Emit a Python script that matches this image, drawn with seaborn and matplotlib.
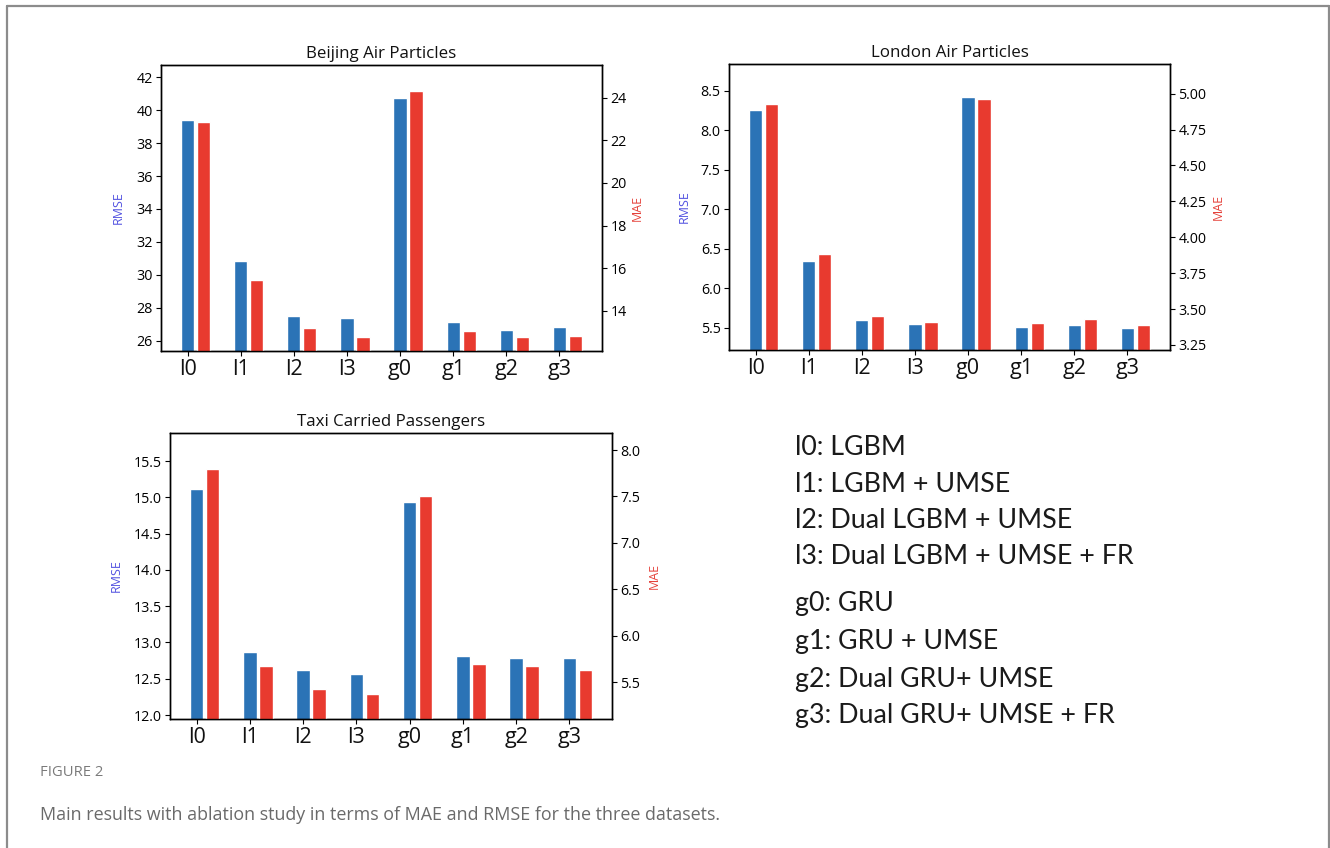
import numpy as np
import seaborn as sns
import matplotlib.pyplot as plt
from matplotlib.lines import Line2D

# -------------------------------
# data
# -------------------------------
models = ["l0", "l1", "l2", "l3", "g0", "g1", "g2", "g3"]

beijing_rmse = [39.38, 30.84, 27.52, 27.36, 40.76, 27.13, 26.65, 26.83]
beijing_mae = [22.88, 15.47, 13.19, 12.77, 24.30, 13.06, 12.77, 12.83]

london_rmse = [8.26, 6.34, 5.60, 5.55, 8.42, 5.51, 5.54, 5.49]
london_mae = [4.93, 3.88, 3.45, 3.41, 4.96, 3.40, 3.43, 3.39]

taxi_rmse = [15.12, 12.87, 12.62, 12.57, 14.93, 12.82, 12.78, 12.78]
taxi_mae = [7.80, 5.68, 5.43, 5.37, 7.50, 5.70, 5.68, 5.63]

legend_lines = [
    "l0: LGBM",
    "l1: LGBM + UMSE",
    "l2: Dual LGBM + UMSE",
    "l3: Dual LGBM + UMSE + FR",
    "g0: GRU",
    "g1: GRU + UMSE",
    "g2: Dual GRU+ UMSE",
    "g3: Dual GRU+ UMSE + FR",
]

BLUE = "#2b73b6"
RED = "#e83a2f"

sns.set_style("ticks", {"axes.edgecolor": "black",
                        "xtick.color": "black", "ytick.color": "black",
                        "xtick.direction": "out", "ytick.direction": "out"})
plt.rcParams["font.family"] = ["Open Sans", "DejaVu Sans"]
plt.rcParams["axes.linewidth"] = 1.0

W, H = 1330, 848
fig = plt.figure(figsize=(W / 100, H / 100), dpi=100)


def px_axes(left, top, right, bottom):
    return fig.add_axes([left / W, 1 - bottom / H, (right - left) / W, (bottom - top) / H])


# -------------------------------
# one panel: RMSE on left axis, MAE on twin axis
# -------------------------------
def panel(box, title, rmse, mae, ylim_l, ylim_r, ticks_l, ticks_r, fmt_l, fmt_r, lab_l, lab_r):
    ax = px_axes(*box)
    x = np.arange(len(models))
    sns.barplot(x=x, y=rmse, native_scale=True, orient="x", width=0.25,
                color=BLUE, saturation=1, errorbar=None, ax=ax)
    ax2 = ax.twinx()
    sns.barplot(x=x + 0.3, y=mae, native_scale=True, orient="x", width=0.25,
                color=RED, saturation=1, errorbar=None, ax=ax2)

    ax.set_xlim(-0.5, 7.8)
    ax.set_xticks(x)
    ax.set_xticklabels(models, fontsize=15.5, color="#111111")
    ax.tick_params(axis="x", length=3.5, pad=2)

    ax.set_ylim(*ylim_l)
    ax.set_yticks(ticks_l)
    ax.set_yticklabels([fmt_l.format(t) for t in ticks_l], fontsize=10.3)
    ax2.set_ylim(*ylim_r)
    ax2.set_yticks(ticks_r)
    ax2.set_yticklabels([fmt_r.format(t) for t in ticks_r], fontsize=10.3)
    ax.tick_params(axis="y", length=3.5, pad=2.5)
    ax2.tick_params(axis="y", length=3.5, pad=2.5)

    ax.set_ylabel("RMSE", color="#5050e0", fontsize=9)
    ax.yaxis.set_label_coords(lab_l, 0.5)
    ax2.set_ylabel("MAE", color="#e5413a", fontsize=9)
    ax2.yaxis.set_label_coords(lab_r, 0.5)

    ax.set_title(title, fontsize=12.2, pad=5, color="#111111")
    for a in (ax, ax2):
        for s in a.spines.values():
            s.set_visible(True)
            s.set_color("black")


panel((161, 65, 602, 351), "Beijing Air Particles", beijing_rmse, beijing_mae,
      (25.37, 42.75), (12.125, 25.53),
      np.arange(26, 43, 2), np.arange(14, 25, 2), "{:.0f}", "{:.0f}", -0.082, 1.066)

panel((729, 64, 1170, 350), "London Air Particles", london_rmse, london_mae,
      (5.217, 8.84), (3.215, 5.206),
      np.arange(5.5, 8.51, 0.5), np.arange(3.25, 5.01, 0.25), "{:.1f}", "{:.2f}", -0.087, 1.095)

panel((170, 433, 612, 719), "Taxi Carried Passengers", taxi_rmse, taxi_mae,
      (11.945, 15.886), (5.105, 8.183),
      np.arange(12.0, 15.51, 0.5), np.arange(5.5, 8.01, 0.5), "{:.1f}", "{:.1f}", -0.106, 1.080)

# -------------------------------
# model key
# -------------------------------
key_y = [447, 484, 521, 557, 604, 641, 679, 716]
for line, yy in zip(legend_lines, key_y):
    fig.text(795 / W, 1 - yy / H, line, fontsize=19.3, va="center",
             family=["Lato", "DejaVu Sans"], color="#1a1a1a")

# -------------------------------
# caption + frame
# -------------------------------
fig.text(40 / W, 1 - 773 / H, "FIGURE 2", fontsize=10.6, va="center", color="#7a7a7a")
fig.text(40 / W, 1 - 815 / H,
         "Main results with ablation study in terms of MAE and RMSE for the three datasets.",
         fontsize=12.9, va="center", color="#6a6a6a")

frame = dict(color="#8c8c8c", linewidth=1.6, transform=fig.transFigure)
fig.add_artist(Line2D([6.5 / W, 1329 / W], [1 - 6 / H, 1 - 6 / H], **frame))
fig.add_artist(Line2D([6.5 / W, 6.5 / W], [1 - 6 / H, 0], **frame))
fig.add_artist(Line2D([1329 / W, 1329 / W], [1 - 6 / H, 0], **frame))

fig.savefig("out.png", dpi=100)
